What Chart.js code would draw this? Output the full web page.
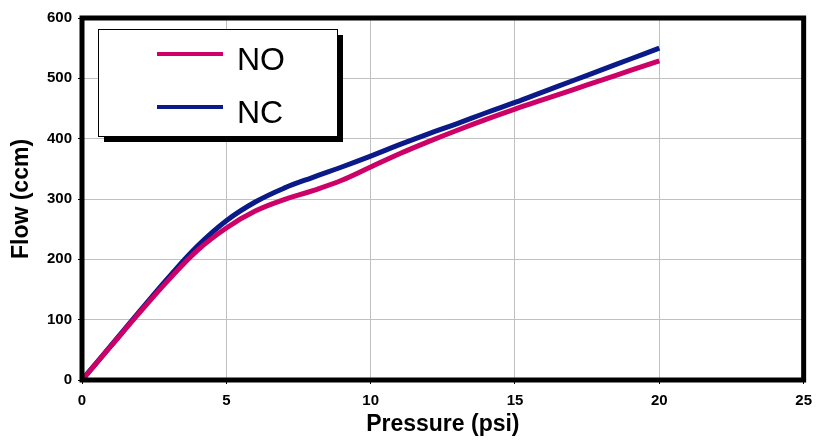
<!DOCTYPE html>
<html>
<head>
<meta charset="utf-8">
<script src="https://cdn.jsdelivr.net/npm/chart.js@4.4.0/dist/chart.umd.min.js"></script>
<style>
  html, body { margin: 0; padding: 0; background: #fff; }
  #wrap { width: 820px; height: 441px; }
</style>
</head>
<body>
<div id="wrap"><canvas id="myChart" width="820" height="441"></canvas></div>
<script>
// values
var pressure = [0, 1, 2, 3, 4, 5, 6, 7, 8, 9, 10, 11, 12, 13, 14, 15, 16, 17, 18, 19, 20];
var flowNO = [0, 56, 112, 166, 215, 252, 280, 299, 314, 331, 353, 375, 395, 414, 432, 449, 465, 481, 497, 513, 529];
var flowNC = [0, 57, 114, 170, 222, 264, 295, 318, 336, 353, 371, 390, 408, 425, 443, 460, 478, 496, 514, 532, 550];
var seriesNames = ['NO', 'NC'];

function toPoints(ys) {
    return pressure.map(function (p, i) { return { x: p, y: ys[i] }; });
}

var FONT = "'Liberation Sans', Arial, sans-serif";

// thick frame round the plot area
var frame = {
    id: 'frame',
    afterDatasetsDraw: function (chart) {
        var a = chart.chartArea, ctx = chart.ctx;
        ctx.save();
        ctx.strokeStyle = '#000';
        ctx.lineWidth = 5;
        ctx.strokeRect(a.left, a.top, a.right - a.left, a.bottom - a.top);
        ctx.restore();
    }
};

// boxed legend with drop shadow, like the original
var boxLegend = {
    id: 'boxLegend',
    afterDraw: function (chart) {
        var ctx = chart.ctx;
        var x = 98, y = 29, w = 239, h = 107;
        ctx.save();
        ctx.fillStyle = '#000';
        ctx.fillRect(x + 6, y + 6, w, h);
        ctx.fillStyle = '#fff';
        ctx.fillRect(x, y, w, h);
        ctx.strokeStyle = '#000';
        ctx.lineWidth = 1;
        ctx.strokeRect(x + 0.5, y + 0.5, w, h);
        ctx.font = '32px ' + FONT;
        ctx.textBaseline = 'alphabetic';
        chart.data.datasets.forEach(function (ds, i) {
            var ly = 54 + i * 53;
            ctx.strokeStyle = ds.borderColor;
            ctx.lineWidth = 4;
            ctx.beginPath();
            ctx.moveTo(157, ly);
            ctx.lineTo(223, ly);
            ctx.stroke();
            ctx.fillStyle = '#000';
            ctx.fillText(ds.label, 237, ly + 16);
        });
        ctx.restore();
    }
};

var myChart = new Chart(document.getElementById('myChart'), {
    type: 'line',
    data: {
        datasets: [{
            label: seriesNames[0],
            borderColor: '#cc0066',
            backgroundColor: '#cc0066',
            data: toPoints(flowNO)
        }, {
            label: seriesNames[1],
            borderColor: '#0a1a88',
            backgroundColor: '#0a1a88',
            data: toPoints(flowNC)
        }]
    },
    options: {
        responsive: false,
        animation: false,
        devicePixelRatio: 1,
        elements: {
            line: { borderWidth: 5, tension: 0.4, borderCapStyle: 'butt' },
            point: { radius: 0 }
        },
        layout: {
            padding: { left: 0, right: 14, top: 18, bottom: 0 }
        },
        plugins: {
            legend: { display: false },
            tooltip: { enabled: false }
        },
        scales: {
            x: {
                type: 'linear',
                min: 0,
                max: 25,
                afterFit: function (s) { s.height = 61; },
                border: { display: false },
                grid: { color: '#c0c0c0', lineWidth: 1, tickLength: 4, tickColor: '#000' },
                ticks: {
                    stepSize: 5,
                    padding: 8,
                    color: '#000',
                    maxRotation: 0,
                    font: { family: FONT, size: 15, weight: 'bold' }
                },
                title: {
                    display: true,
                    text: 'Pressure (psi)',
                    color: '#000',
                    padding: { top: 0, bottom: 3 },
                    font: { family: FONT, size: 23, weight: 'bold' }
                }
            },
            y: {
                min: 0,
                max: 600,
                afterFit: function (s) { s.width = 82; },
                border: { display: false },
                grid: { color: '#c0c0c0', lineWidth: 1, tickLength: 4, tickColor: '#000' },
                ticks: {
                    stepSize: 100,
                    padding: 6,
                    color: '#000',
                    font: { family: FONT, size: 15, weight: 'bold' }
                },
                title: {
                    display: true,
                    text: 'Flow (ccm)',
                    color: '#000',
                    padding: { top: 8, bottom: 0 },
                    font: { family: FONT, size: 23, weight: 'bold' }
                }
            }
        }
    },
    plugins: [frame, boxLegend]
});
</script>
</body>
</html>
